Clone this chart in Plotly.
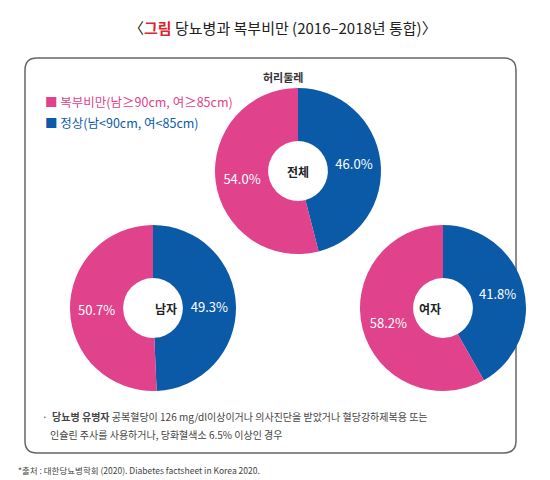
import plotly.graph_objects as go

groups = ["전체", "남자", "여자"]
normal = [46.0, 49.3, 41.8]
obese = [54.0, 50.7, 58.2]
labels = ["정상(남<90cm, 여<85cm)", "복부비만(남≥90cm, 여≥85cm)"]
PINK, BLUE = "#e0428b", "#0b5aa7"
F = "Noto Sans CJK KR"

doms = [((207, 373), 163), ((62, 228), 300), ((352, 518), 300)]
fig = go.Figure()
for g, n, o, (xr, cy) in zip(groups, normal, obese, doms):
    r = 84
    fig.add_trace(go.Pie(
        values=[n, o], labels=labels, sort=False, direction="clockwise", rotation=0,
        hole=0.36, marker=dict(colors=[BLUE, PINK]), textinfo="text",
        text=[f"{n:.1f}%", f"{o:.1f}%"], textposition="inside", insidetextorientation="horizontal",
        textfont=dict(color="white", size=13, family=F), showlegend=False,
        domain=dict(x=[xr[0]/550, xr[1]/550], y=[1-(cy+r)/480, 1-(cy-r)/480])))
    fig.add_annotation(x=(xr[0]+xr[1])/2/550, y=1-cy/480, xref="paper", yref="paper",
                       text=f"<b>{g}</b>", showarrow=False, font=dict(size=12, family=F, color="#222"))

ann = [
    (275, 20, "〈<span style='color:#e0232f'><b>그림</b></span> 당뇨병과 복부비만 (2016–2018년 통합)〉", 15, "center", "#222"),
    (275, 69, "<b>허리둘레</b>", 11, "center", "#333"),
    (35, 94, "<span style='color:%s'>■</span> 복부비만(남≥90cm, 여≥85cm)" % PINK, 12.5, "left", PINK),
    (35, 114, "<span style='color:%s'>■</span> 정상(남<90cm, 여<85cm)" % BLUE, 12.5, "left", BLUE),
    (32, 408, "·  <b>당뇨병 유병자</b> 공복혈당이 126 mg/dl이상이거나 의사진단을 받았거나 혈당강하제복용 또는", 10, "left", "#444"),
    (40, 426, "인슐린 주사를 사용하거나, 당화혈색소 6.5% 이상인 경우", 10, "left", "#444"),
    (8, 462, "*출처 : 대한당뇨병학회 (2020). Diabetes factsheet in Korea 2020.", 8.5, "left", "#444"),
]
for x, y, t, s, al, c in ann:
    fig.add_annotation(x=x/550, y=1-y/480, xref="paper", yref="paper", text=t, showarrow=False,
                       xanchor="center" if al == "center" else "left", yanchor="middle",
                       font=dict(size=s, family=F, color=c))

# rounded box in pixel-based paper coords
L, R, T, B, c = 17, 508, 50, 445, 12
def px(x, y):
    return f"{x/550:.5f},{1-y/480:.5f}"
path = (f"M {px(L+c,T)} L {px(R-c,T)} Q {px(R,T)} {px(R,T+c)} L {px(R,B-c)} Q {px(R,B)} {px(R-c,B)} "
        f"L {px(L+c,B)} Q {px(L,B)} {px(L,B-c)} L {px(L,T+c)} Q {px(L,T)} {px(L+c,T)} Z")
fig.add_shape(type="path", xref="paper", yref="paper", path=path,
              line=dict(color="#666", width=1.5), layer="below")
fig.update_layout(width=550, height=480, margin=dict(l=0, r=0, t=0, b=0),
                  paper_bgcolor="white", plot_bgcolor="white")
fig.write_html("out.html")
